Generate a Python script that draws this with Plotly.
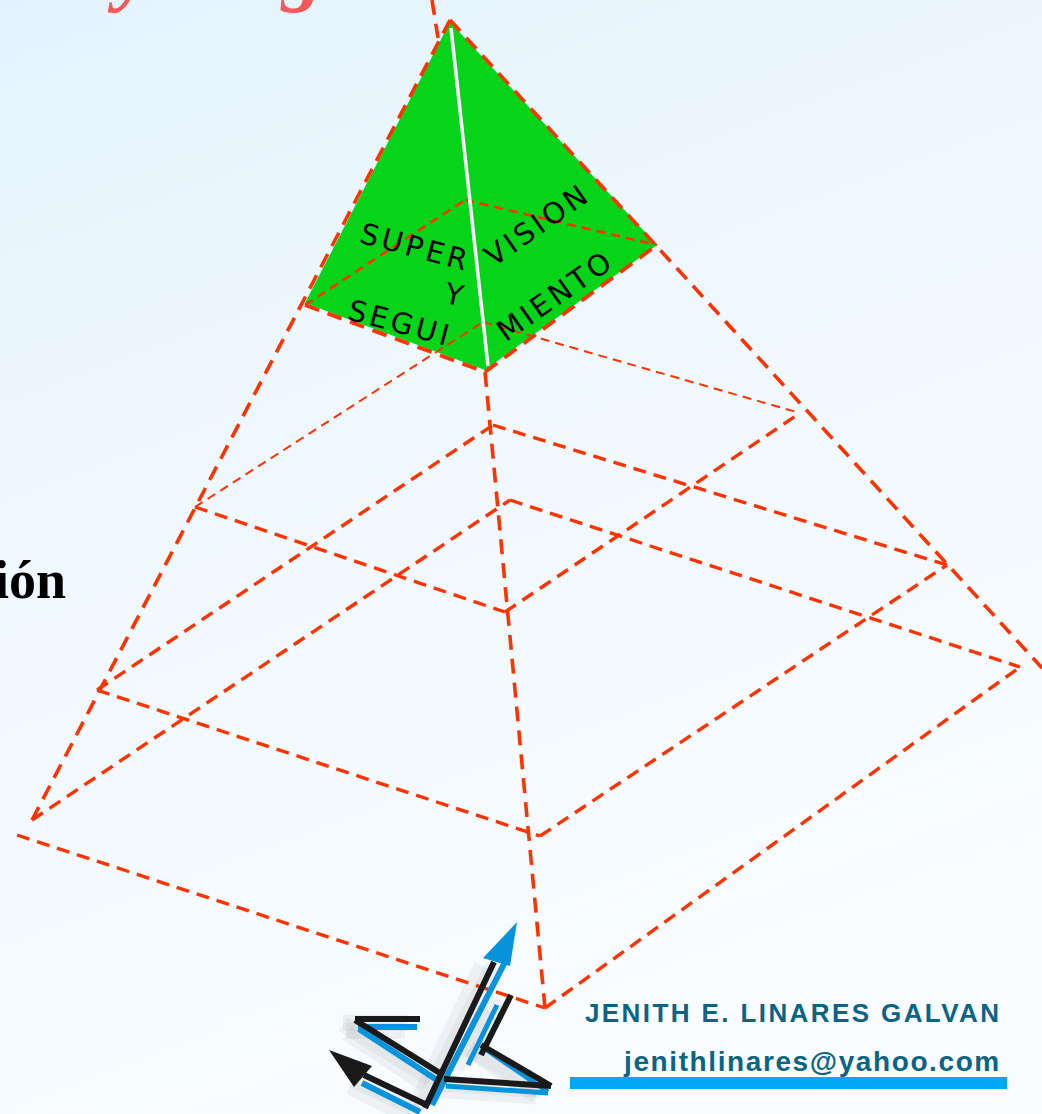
import base64
import plotly.graph_objects as go

W, H = 1042, 1114

# ---------------- data (pixel space of the drawing) ----------------
apex = (450, 20)
level_left = [(305, 305), (195, 507), (97, 690), (32, 820)]
level_back = [(465, 200), (483, 322), (493, 425), (510, 500)]
level_right = [(657, 245), (800, 413), (947, 565), (1020, 667)]
level_front = [(485, 372), (505, 612), (540, 836), (545, 1008)]
base_front_left_start = (17, 835)
outline_left_end = (32, 820)
outline_right_end = (1042, 668)
front_edge_end = (545, 1008)
top_stub = [(432, 0), (438, 38)]
green_face = [(450, 22), (305, 303), (485, 370), (657, 245)]
white_ridge = [(451, 28), (488, 366)]

green_labels = ["SUPER", "VISION", "Y", "SEGUI", "MIENTO"]
green_label_x = [415, 537, 455, 400, 555]
green_label_y = [247, 225, 295, 323, 296]
green_label_angle = [15, -35, 12, 15, -35]

author_name = "JENITH E. LINARES GALVAN"
author_mail = "jenithlinares@yahoo.com"
side_text = "ión"
top_letters = ["y", "g"]
top_letters_x = [130, 301]

# logo strokes: x0, y0, x1, y1, colour key, width
logo_strokes = [
    (358, 1027, 417, 1027, "blue", 6),
    (359, 1029, 437, 1080, "blue", 6),
    (362, 1083, 420, 1112, "blue", 6),
    (505, 962, 432, 1105, "blue", 6),
    (497, 1005, 468, 1065, "blue", 5),
    (484, 1048, 548, 1092, "blue", 5),
    (446, 1086, 548, 1093, "blue", 5),
    (355, 1019, 420, 1019, "black", 6),
    (355, 1020, 443, 1075, "black", 6),
    (364, 1075, 429, 1106, "black", 6),
    (494, 962, 425, 1108, "black", 6),
    (511, 995, 481, 1055, "black", 6),
    (481, 1045, 551, 1086, "black", 6),
    (444, 1079, 551, 1086, "black", 6),
]
blue_head = [(517, 922), (483, 958), (510, 966)]
black_head = [(329, 1050), (372, 1066), (354, 1087)]

RED = "#FF3300"
GREEN = "#05D418"
TEAL = "#0B6386"
LOGO = {"blue": "#0A93DD", "black": "#1A1A1A"}

fig = go.Figure()


def seg(p, q, width, dash, color=RED):
    fig.add_trace(go.Scatter(x=[p[0], q[0]], y=[p[1], q[1]], mode="lines",
                             line=dict(color=color, width=width, dash=dash),
                             hoverinfo="skip", showlegend=False))


# green face
gx = [p[0] for p in green_face] + [green_face[0][0]]
gy = [p[1] for p in green_face] + [green_face[0][1]]
fig.add_trace(go.Scatter(x=gx, y=gy, mode="lines", fill="toself", fillcolor=GREEN,
                         line=dict(width=0, color=GREEN), hoverinfo="skip", showlegend=False))

THICK = "15px,9px"
MID = "13px,8px"
THIN = "9px,6px"

# level slices
for i in range(4):
    L, B, R, F = level_left[i], level_back[i], level_right[i], level_front[i]
    if i == 0:
        seg(L, B, 2.6, THIN)
        seg(B, R, 2.6, THIN)
        seg(L, F, 3.8, THICK)
        seg(F, R, 3.8, THICK)
    elif i == 1:
        seg(L, B, 2.0, THIN)
        seg(B, R, 2.0, THIN)
        seg(L, F, 3.4, MID)
        seg(F, R, 3.4, MID)
    else:
        seg(L, B, 3.4, MID)
        seg(B, R, 3.4, MID)
        start = L if i < 3 else base_front_left_start
        seg(start, F, 3.4, MID)
        seg(F, R, 3.4, MID)

# outline edges
seg(apex, outline_left_end, 3.6, THICK)
seg(apex, outline_right_end, 3.6, THICK)
seg(level_front[0], front_edge_end, 3.6, THICK)
seg(top_stub[0], top_stub[1], 3.6, THICK)

# white ridge
seg(white_ridge[0], white_ridge[1], 3.5, "solid", "white")

# logo shadow
for (x0, y0, x1, y1, c, w) in logo_strokes:
    fig.add_trace(go.Scatter(x=[x0 - 12, x1 - 12], y=[y0 + 4, y1 + 4], mode="lines",
                             line=dict(color="rgba(120,120,120,0.08)", width=w + 10),
                             hoverinfo="skip", showlegend=False))
for (x0, y0, x1, y1, c, w) in logo_strokes:
    fig.add_trace(go.Scatter(x=[x0, x1], y=[y0, y1], mode="lines",
                             line=dict(color=LOGO[c], width=w),
                             hoverinfo="skip", showlegend=False))
for head, c in [(blue_head, "blue"), (black_head, "black")]:
    fig.add_trace(go.Scatter(x=[p[0] for p in head] + [head[0][0]],
                             y=[p[1] for p in head] + [head[0][1]],
                             mode="lines", fill="toself", fillcolor=LOGO[c],
                             line=dict(width=0, color=LOGO[c]),
                             hoverinfo="skip", showlegend=False))

annotations = []
for t, x, y, a in zip(green_labels, green_label_x, green_label_y, green_label_angle):
    annotations.append(dict(x=x, y=y, xref="x", yref="y", showarrow=False,
                            text=f"<span style='letter-spacing:3.5px'>{t}</span>",
                            textangle=a,
                            font=dict(family="DejaVu Sans", size=29, color="black")))

annotations.append(dict(x=1003, y=1013, xref="x", yref="y", showarrow=False,
                        xanchor="right", yanchor="middle",
                        text=f"<b><span style='letter-spacing:2.4px'>{author_name}</span></b>",
                        font=dict(family="Liberation Sans", size=26, color=TEAL)))
annotations.append(dict(x=1003, y=1061, xref="x", yref="y", showarrow=False,
                        xanchor="right", yanchor="middle",
                        text=f"<b><span style='letter-spacing:1.6px'>{author_mail}</span></b>",
                        font=dict(family="Liberation Sans", size=28, color=TEAL)))
annotations.append(dict(x=68, y=580, xref="x", yref="y", showarrow=False,
                        xanchor="right", yanchor="middle",
                        text=f"<b>{side_text}</b>",
                        font=dict(family="Liberation Serif", size=54, color="black")))
for t, x in zip(top_letters, top_letters_x):
    annotations.append(dict(x=x / W, y=1 - 15 / H, xref="paper", yref="paper", showarrow=False,
                            xanchor="center", yanchor="bottom",
                            text=f"<b><i>{t}</i></b>",
                            font=dict(family="Liberation Serif", size=82, color="#F25A5A")))

svg = ("<svg xmlns='http://www.w3.org/2000/svg' width='1042' height='1114'>"
       "<defs><linearGradient id='g' x1='0' y1='0' x2='0.35' y2='1'>"
       "<stop offset='0' stop-color='#E3F3FD'/><stop offset='0.55' stop-color='#F1F9FE'/>"
       "<stop offset='1' stop-color='#F8FCFF'/></linearGradient></defs>"
       "<rect width='1042' height='1114' fill='url(#g)'/></svg>")
bg_src = "data:image/svg+xml;base64," + base64.b64encode(svg.encode()).decode()

fig.update_layout(
    width=W, height=H,
    margin=dict(l=0, r=0, t=0, b=0),
    paper_bgcolor="#F1F9FE", plot_bgcolor="rgba(0,0,0,0)",
    xaxis=dict(range=[0, W], visible=False, fixedrange=True),
    yaxis=dict(range=[H, 0], visible=False, fixedrange=True),
    annotations=annotations,
    shapes=[dict(type="rect", xref="x", yref="y", x0=570, x1=1007, y0=1077, y1=1089,
                 fillcolor="#00A9F4", line=dict(width=0), layer="above")],
    images=[dict(source=bg_src, xref="paper", yref="paper", x=0, y=1, sizex=1, sizey=1,
                 sizing="stretch", xanchor="left", yanchor="top", layer="below")],
)

fig.write_html("out.html", config={"displayModeBar": False},
               post_script="document.body.style.margin='0';document.body.style.overflow='hidden';")
